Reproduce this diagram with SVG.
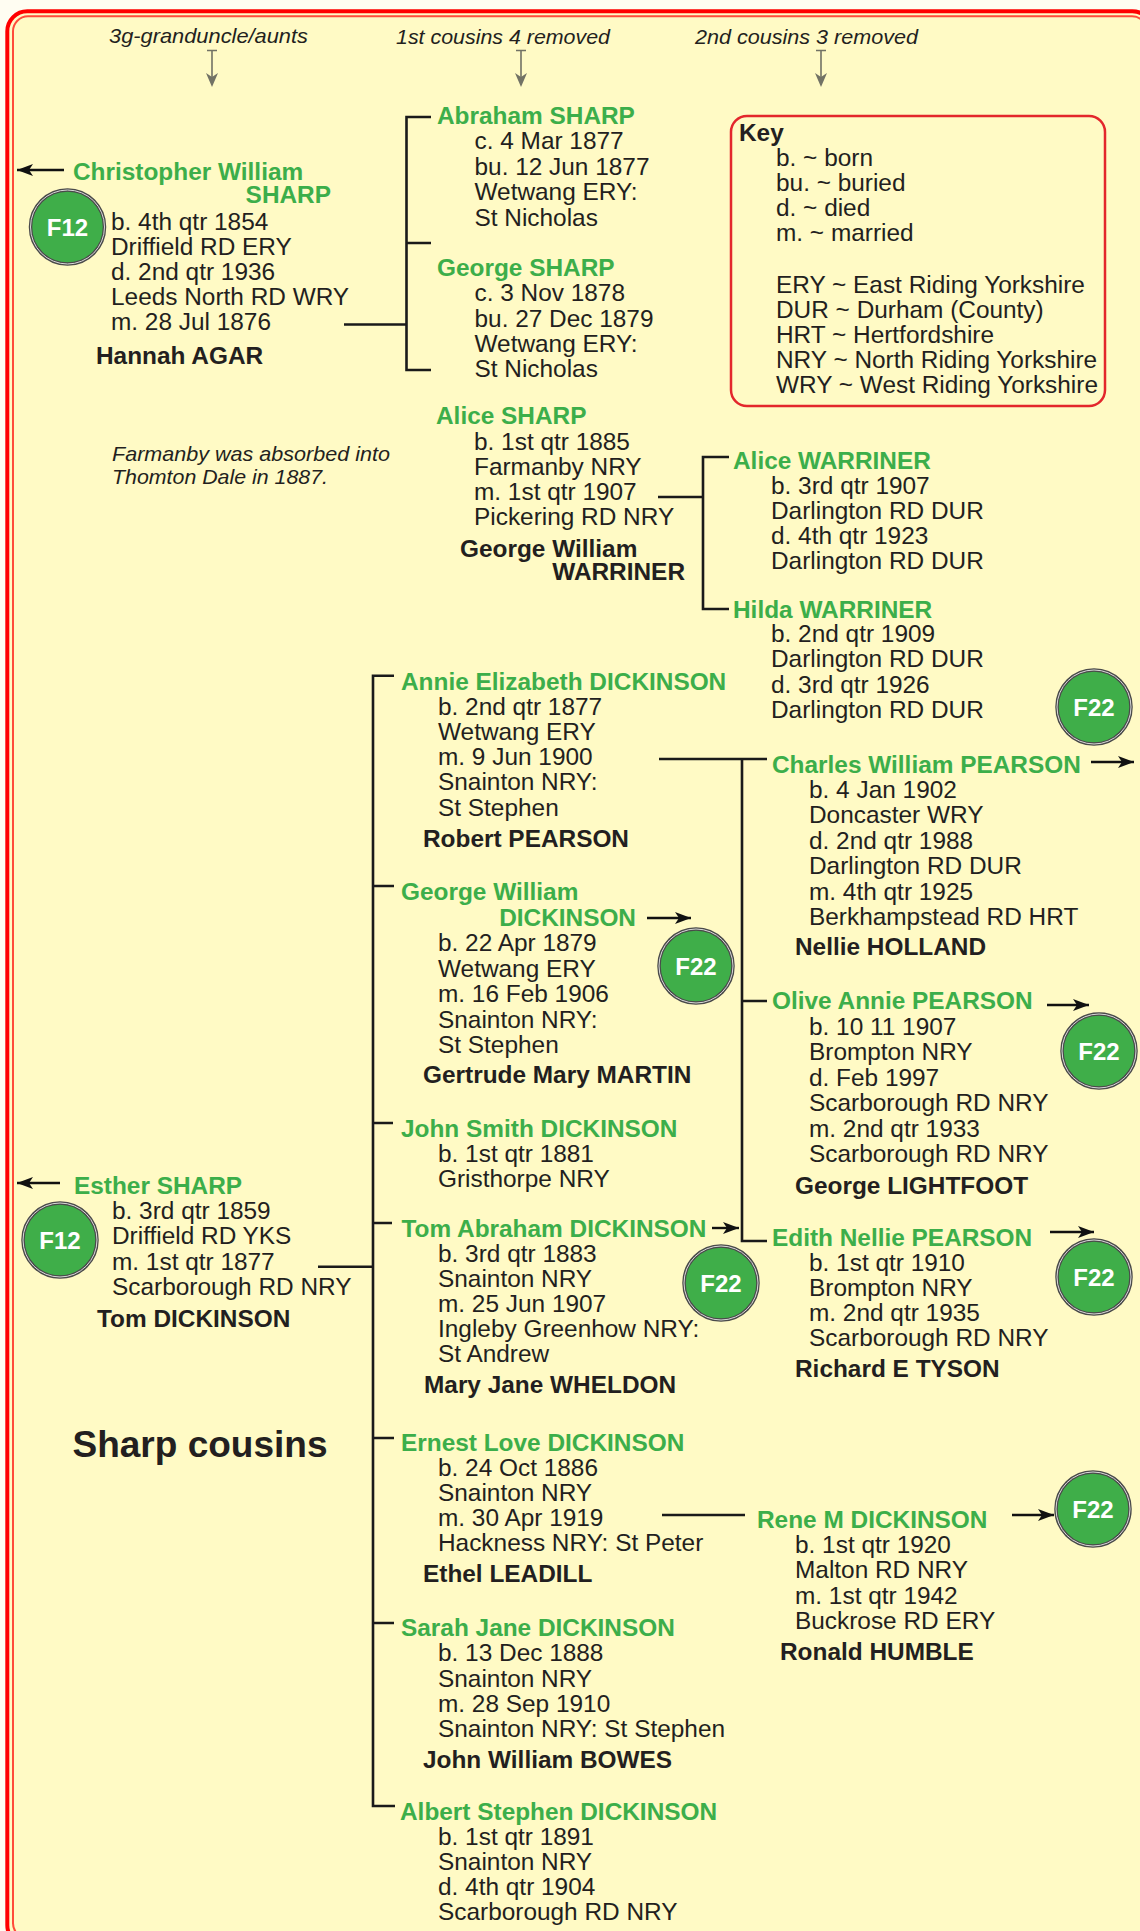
<svg xmlns="http://www.w3.org/2000/svg" width="1140" height="1931" viewBox="0 0 1140 1931">
<defs>
<style>
.nm{font-family:"Liberation Sans",Arial,sans-serif;font-size:24.4px;font-weight:bold;fill:#3cae4a}
.tx{font-family:"Liberation Sans",Arial,sans-serif;font-size:24.4px;fill:#231f20}
.sp{font-family:"Liberation Sans",Arial,sans-serif;font-size:24.4px;font-weight:bold;fill:#231f20}
.hd{font-family:"Liberation Sans",Arial,sans-serif;font-size:21px;font-style:italic;fill:#231f20}
.bt{font-family:"Liberation Sans",Arial,sans-serif;font-size:24px;font-weight:bold;fill:#ffffff}
.ln{stroke:#1a1a1a;stroke-width:2.6;fill:none}
.ar{stroke:#111;stroke-width:2.4;fill:none;marker-end:url(#ah)}
.ga{stroke:#727265;stroke-width:1.6;fill:none}
.bd1{fill:#3fae49;stroke:#4a4a4a;stroke-width:3.5}
.bd2{fill:none;stroke:#d8d8d8;stroke-width:1}
</style>
<marker id="ah" markerUnits="userSpaceOnUse" markerWidth="17" markerHeight="14" refX="16" refY="7" orient="auto">
<path d="M0,1 L16,7 L0,13 L4,7 Z" fill="#111"/>
</marker>
</defs>
<rect x="0" y="0" width="1140" height="1931" fill="#fffdf2"/>
<rect x="7.3" y="11.3" width="1145" height="1934" rx="20" fill="#fffac5" stroke="#ff0000" stroke-width="4"/>
<rect x="13" y="16.3" width="1134" height="1922" rx="15" fill="none" stroke="#ff4b3a" stroke-width="2"/>

<g id="headers">
<text class="hd" x="109" y="43" textLength="199" lengthAdjust="spacingAndGlyphs">3g-granduncle/aunts</text>
<text class="hd" x="396" y="43.5" textLength="214" lengthAdjust="spacingAndGlyphs">1st cousins 4 removed</text>
<text class="hd" x="695" y="43.5" textLength="223" lengthAdjust="spacingAndGlyphs">2nd cousins 3 removed</text>
<path class="ga" d="M207,50.5 H217 M212,50.5 V78"/>
<path d="M206,73 L212,87 L218,73 L212,77 Z" fill="#727265"/>
<path class="ga" d="M516,50.5 H526 M521,50.5 V78"/>
<path d="M515,73 L521,87 L527,73 L521,77 Z" fill="#727265"/>
<path class="ga" d="M816,50.5 H826 M821,50.5 V78"/>
<path d="M815,73 L821,87 L827,73 L821,77 Z" fill="#727265"/>
</g>

<g id="connectors">
<path class="ln" d="M344,324.5 H406.5 M431,117 H406.5 V370 H431 M406.5,243 H431"/>
<path class="ln" d="M658,497 H703 M729,457 H703 V609 H729"/>
<path class="ln" d="M394,675.7 H373 V1806 H395 M373,886 H394 M373,1123 H393 M373,1223 H392 M373,1438 H394 M373,1623 H394 M318,1266.7 H373"/>
<path class="ln" d="M659,759 H767 M742,759 V1241 H767 M742,1001 H767"/>
<path class="ln" d="M662,1515 H745"/>
<path class="ar" d="M64,170 H17"/>
<path class="ar" d="M60,1183 H17"/>
<path class="ar" d="M1091,762 H1134"/>
<path class="ar" d="M647,918 H691"/>
<path class="ar" d="M1047,1005 H1089"/>
<path class="ar" d="M712,1228 H739"/>
<path class="ar" d="M1050,1232 H1094"/>
<path class="ar" d="M1012,1515 H1054"/>
</g>

<g id="christopher">
<text class="nm" x="73" y="180">Christopher William</text>
<text class="nm" x="331" y="203" text-anchor="end">SHARP</text>
<text class="tx" x="111" y="230">b. 4th qtr 1854</text>
<text class="tx" x="111" y="255">Driffield RD ERY</text>
<text class="tx" x="111" y="280">d. 2nd qtr 1936</text>
<text class="tx" x="111" y="305">Leeds North RD WRY</text>
<text class="tx" x="111" y="330">m. 28 Jul 1876</text>
<text class="sp" x="96" y="364">Hannah AGAR</text>
</g>
<g id="badge-f12a"><circle class="bd1" cx="67.5" cy="227" r="37"/><circle class="bd2" cx="67.5" cy="227" r="37"/><text class="bt" x="67.5" y="236" text-anchor="middle">F12</text></g>

<g id="abraham">
<text class="nm" x="437" y="124">Abraham SHARP</text>
<text class="tx" x="474.5" y="149">c. 4 Mar 1877</text>
<text class="tx" x="474.5" y="174.5">bu. 12 Jun 1877</text>
<text class="tx" x="474.5" y="200">Wetwang ERY:</text>
<text class="tx" x="474.5" y="225.5">St Nicholas</text>
</g>
<g id="george-sharp">
<text class="nm" x="437" y="276">George SHARP</text>
<text class="tx" x="474.5" y="301">c. 3 Nov 1878</text>
<text class="tx" x="474.5" y="326.5">bu. 27 Dec 1879</text>
<text class="tx" x="474.5" y="351.5">Wetwang ERY:</text>
<text class="tx" x="474.5" y="376.5">St Nicholas</text>
</g>

<g id="key">
<rect x="731" y="116" width="374" height="290" rx="16" fill="none" stroke="#e3262c" stroke-width="2.5"/>
<text class="sp" x="739" y="140.5">Key</text>
<text class="tx" x="776" y="166">b. ~ born</text>
<text class="tx" x="776" y="191">bu. ~ buried</text>
<text class="tx" x="776" y="216">d. ~ died</text>
<text class="tx" x="776" y="241">m. ~ married</text>
<text class="tx" x="776" y="293">ERY ~ East Riding Yorkshire</text>
<text class="tx" x="776" y="318">DUR ~ Durham (County)</text>
<text class="tx" x="776" y="343">HRT ~ Hertfordshire</text>
<text class="tx" x="776" y="368">NRY ~ North Riding Yorkshire</text>
<text class="tx" x="776" y="393">WRY ~ West Riding Yorkshire</text>
</g>

<g id="note">
<text class="hd" x="112" y="461" textLength="278" lengthAdjust="spacingAndGlyphs">Farmanby was absorbed into</text>
<text class="hd" x="112" y="484" textLength="216" lengthAdjust="spacingAndGlyphs">Thomton Dale in 1887.</text>
</g>

<g id="alice-sharp">
<text class="nm" x="436" y="424">Alice SHARP</text>
<text class="tx" x="474" y="450">b. 1st qtr 1885</text>
<text class="tx" x="474" y="475">Farmanby NRY</text>
<text class="tx" x="474" y="500">m. 1st qtr 1907</text>
<text class="tx" x="474" y="525">Pickering RD NRY</text>
<text class="sp" x="460" y="557">George William</text>
<text class="sp" x="685" y="580" text-anchor="end">WARRINER</text>
</g>

<g id="alice-warriner">
<text class="nm" x="733" y="468.5">Alice WARRINER</text>
<text class="tx" x="771" y="494">b. 3rd qtr 1907</text>
<text class="tx" x="771" y="519">Darlington RD DUR</text>
<text class="tx" x="771" y="544">d. 4th qtr 1923</text>
<text class="tx" x="771" y="569">Darlington RD DUR</text>
</g>
<g id="hilda-warriner">
<text class="nm" x="733" y="617.5">Hilda WARRINER</text>
<text class="tx" x="771" y="642">b. 2nd qtr 1909</text>
<text class="tx" x="771" y="667">Darlington RD DUR</text>
<text class="tx" x="771" y="693">d. 3rd qtr 1926</text>
<text class="tx" x="771" y="718">Darlington RD DUR</text>
</g>

<g id="badge-f22a"><circle class="bd1" cx="1094" cy="707" r="37"/><circle class="bd2" cx="1094" cy="707" r="37"/><text class="bt" x="1094" y="716" text-anchor="middle">F22</text></g>

<g id="annie">
<text class="nm" x="401" y="690">Annie Elizabeth DICKINSON</text>
<text class="tx" x="438" y="714.5">b. 2nd qtr 1877</text>
<text class="tx" x="438" y="740">Wetwang ERY</text>
<text class="tx" x="438" y="765">m. 9 Jun 1900</text>
<text class="tx" x="438" y="790">Snainton NRY:</text>
<text class="tx" x="438" y="815.5">St Stephen</text>
<text class="sp" x="423" y="847">Robert PEARSON</text>
</g>

<g id="charles">
<text class="nm" x="772" y="772.5">Charles William PEARSON</text>
<text class="tx" x="809" y="797.5">b. 4 Jan 1902</text>
<text class="tx" x="809" y="823">Doncaster WRY</text>
<text class="tx" x="809" y="848.5">d. 2nd qtr 1988</text>
<text class="tx" x="809" y="874">Darlington RD DUR</text>
<text class="tx" x="809" y="899.5">m. 4th qtr 1925</text>
<text class="tx" x="809" y="925">Berkhampstead RD HRT</text>
<text class="sp" x="795" y="955">Nellie HOLLAND</text>
</g>

<g id="george-dickinson">
<text class="nm" x="401" y="900">George William</text>
<text class="nm" x="636" y="926" text-anchor="end">DICKINSON</text>
<text class="tx" x="438" y="951">b. 22 Apr 1879</text>
<text class="tx" x="438" y="976.5">Wetwang ERY</text>
<text class="tx" x="438" y="1002">m. 16 Feb 1906</text>
<text class="tx" x="438" y="1027.5">Snainton NRY:</text>
<text class="tx" x="438" y="1053">St Stephen</text>
<text class="sp" x="423" y="1083">Gertrude Mary MARTIN</text>
</g>
<g id="badge-f22b"><circle class="bd1" cx="696" cy="966" r="37"/><circle class="bd2" cx="696" cy="966" r="37"/><text class="bt" x="696" y="975" text-anchor="middle">F22</text></g>

<g id="olive">
<text class="nm" x="772" y="1008.5">Olive Annie PEARSON</text>
<text class="tx" x="809" y="1034.5">b. 10 11 1907</text>
<text class="tx" x="809" y="1060">Brompton NRY</text>
<text class="tx" x="809" y="1085.5">d. Feb 1997</text>
<text class="tx" x="809" y="1111">Scarborough RD NRY</text>
<text class="tx" x="809" y="1136.5">m. 2nd qtr 1933</text>
<text class="tx" x="809" y="1162">Scarborough RD NRY</text>
<text class="sp" x="795" y="1194">George LIGHTFOOT</text>
</g>
<g id="badge-f22c"><circle class="bd1" cx="1099" cy="1051" r="37"/><circle class="bd2" cx="1099" cy="1051" r="37"/><text class="bt" x="1099" y="1060" text-anchor="middle">F22</text></g>

<g id="john-smith">
<text class="nm" x="401" y="1136.5">John Smith DICKINSON</text>
<text class="tx" x="438" y="1162">b. 1st qtr 1881</text>
<text class="tx" x="438" y="1187">Gristhorpe NRY</text>
</g>

<g id="tom-abraham">
<text class="nm" x="401.5" y="1236.5">Tom Abraham DICKINSON</text>
<text class="tx" x="438" y="1261.5">b. 3rd qtr 1883</text>
<text class="tx" x="438" y="1286.5">Snainton NRY</text>
<text class="tx" x="438" y="1311.5">m. 25 Jun 1907</text>
<text class="tx" x="438" y="1336.5">Ingleby Greenhow NRY:</text>
<text class="tx" x="438" y="1361.5">St Andrew</text>
<text class="sp" x="424" y="1393">Mary Jane WHELDON</text>
</g>
<g id="badge-f22d"><circle class="bd1" cx="721" cy="1283" r="37"/><circle class="bd2" cx="721" cy="1283" r="37"/><text class="bt" x="721" y="1292" text-anchor="middle">F22</text></g>

<g id="edith">
<text class="nm" x="772" y="1245.5">Edith Nellie PEARSON</text>
<text class="tx" x="809" y="1270.5">b. 1st qtr 1910</text>
<text class="tx" x="809" y="1295.5">Brompton NRY</text>
<text class="tx" x="809" y="1320.5">m. 2nd qtr 1935</text>
<text class="tx" x="809" y="1345.5">Scarborough RD NRY</text>
<text class="sp" x="795" y="1377">Richard E TYSON</text>
</g>
<g id="badge-f22e"><circle class="bd1" cx="1094" cy="1277" r="37"/><circle class="bd2" cx="1094" cy="1277" r="37"/><text class="bt" x="1094" y="1286" text-anchor="middle">F22</text></g>

<g id="esther">
<text class="nm" x="74" y="1193.5">Esther SHARP</text>
<text class="tx" x="112" y="1219">b. 3rd qtr 1859</text>
<text class="tx" x="112" y="1244">Driffield RD YKS</text>
<text class="tx" x="112" y="1269.5">m. 1st qtr 1877</text>
<text class="tx" x="112" y="1295">Scarborough RD NRY</text>
<text class="sp" x="97" y="1327">Tom DICKINSON</text>
</g>
<g id="badge-f12b"><circle class="bd1" cx="60" cy="1240" r="37"/><circle class="bd2" cx="60" cy="1240" r="37"/><text class="bt" x="60" y="1249" text-anchor="middle">F12</text></g>

<g id="title">
<text x="72.5" y="1457" font-family="'Liberation Sans',Arial,sans-serif" font-size="37" font-weight="bold" fill="#231f20">Sharp cousins</text>
</g>

<g id="ernest">
<text class="nm" x="401" y="1450.5">Ernest Love DICKINSON</text>
<text class="tx" x="438" y="1475.5">b. 24 Oct 1886</text>
<text class="tx" x="438" y="1500.5">Snainton NRY</text>
<text class="tx" x="438" y="1525.5">m. 30 Apr 1919</text>
<text class="tx" x="438" y="1550.5">Hackness NRY: St Peter</text>
<text class="sp" x="423" y="1581.5">Ethel LEADILL</text>
</g>

<g id="rene">
<text class="nm" x="757" y="1527.5">Rene M DICKINSON</text>
<text class="tx" x="795" y="1552.5">b. 1st qtr 1920</text>
<text class="tx" x="795" y="1578">Malton RD NRY</text>
<text class="tx" x="795" y="1603.5">m. 1st qtr 1942</text>
<text class="tx" x="795" y="1628.5">Buckrose RD ERY</text>
<text class="sp" x="780" y="1659.5">Ronald HUMBLE</text>
</g>
<g id="badge-f22f"><circle class="bd1" cx="1093" cy="1509" r="37"/><circle class="bd2" cx="1093" cy="1509" r="37"/><text class="bt" x="1093" y="1518" text-anchor="middle">F22</text></g>

<g id="sarah">
<text class="nm" x="401" y="1635.5">Sarah Jane DICKINSON</text>
<text class="tx" x="438" y="1661">b. 13 Dec 1888</text>
<text class="tx" x="438" y="1686.5">Snainton NRY</text>
<text class="tx" x="438" y="1711.5">m. 28 Sep 1910</text>
<text class="tx" x="438" y="1737">Snainton NRY: St Stephen</text>
<text class="sp" x="423" y="1767.5">John William BOWES</text>
</g>

<g id="albert">
<text class="nm" x="400" y="1820">Albert Stephen DICKINSON</text>
<text class="tx" x="438" y="1844.5">b. 1st qtr 1891</text>
<text class="tx" x="438" y="1870">Snainton NRY</text>
<text class="tx" x="438" y="1895">d. 4th qtr 1904</text>
<text class="tx" x="438" y="1920">Scarborough RD NRY</text>
</g>
</svg>
